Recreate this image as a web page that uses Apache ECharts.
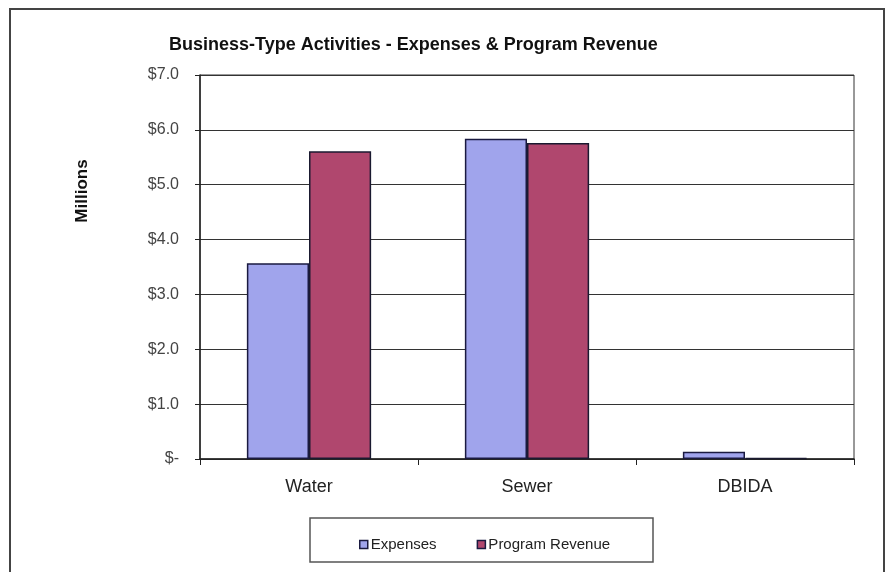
<!DOCTYPE html>
<html>
<head>
<meta charset="utf-8">
<script src="https://cdn.jsdelivr.net/npm/echarts@6/dist/echarts.min.js"></script>
<style>html,body{margin:0;padding:0;background:#fff}#c{width:890px;height:572px}</style>
</head>
<body>
<div id="c"></div>
<script>
const categories = ['Water', 'Sewer', 'DBIDA'];
const expenses = [3.57, 5.84, 0.13];
const programRevenue = [5.61, 5.76, 0.02];
const yTicks = [0, 1, 2, 3, 4, 5, 6, 7];
const seriesNames = ['Expenses', 'Program Revenue'];

const chart = echarts.init(document.getElementById('c'), null, {renderer: 'canvas'});
const fontFam = '"Liberation Sans", Arial, sans-serif';
chart.setOption({
  animation: false,
  backgroundColor: '#ffffff',
  title: {
    text: 'Business-Type Activities - Expenses & Program Revenue',
    left: 164, top: 31,
    textStyle: {fontFamily: fontFam, fontSize: 18, fontWeight: 'bold', color: '#111'}
  },
  graphic: [
    {type: 'rect', shape: {x: 10, y: 9, width: 874, height: 575}, style: {fill: 'none', stroke: '#444', lineWidth: 2}, silent: true},
    {type: 'rect', shape: {x: 310, y: 518, width: 343, height: 44}, style: {fill: 'none', stroke: '#555', lineWidth: 1.5}, silent: true},
    {type: 'text', x: 82, y: 191, rotation: Math.PI / 2,
      style: {text: 'Millions', fontFamily: fontFam, fontSize: 17, fontWeight: 'bold', fill: '#111', align: 'center', verticalAlign: 'middle'}, silent: true}
  ],
  legend: {
    data: seriesNames,
    left: 354, top: 532,
    itemWidth: 8, itemHeight: 8, itemGap: 40,
    icon: 'rect',
    textStyle: {fontFamily: fontFam, fontSize: 15, color: '#222', padding: [0, 0, 0, -2]},
    itemStyle: {borderWidth: 1.5, borderColor: '#1a1a40'}
  },
  grid: {left: 200, right: 36, top: 75, bottom: 113, show: true, borderColor: '#333', borderWidth: 1},
  xAxis: {
    type: 'category',
    data: categories,
    axisLine: {lineStyle: {color: '#222', width: 1.5}},
    axisTick: {show: true, alignWithLabel: false, length: 6, lineStyle: {color: '#222'}},
    axisLabel: {fontFamily: fontFam, fontSize: 18, color: '#222', margin: 19}
  },
  yAxis: {
    type: 'value',
    min: yTicks[0], max: yTicks[yTicks.length - 1], interval: 1,
    axisLine: {show: true, lineStyle: {color: '#222', width: 1.5}},
    axisTick: {show: true, length: 5, inside: false, lineStyle: {color: '#222'}},
    splitLine: {lineStyle: {color: '#333', width: 1}},
    axisLabel: {
      fontFamily: fontFam, fontSize: 16, color: '#444', margin: 21,
      formatter: v => v === 0 ? '$-' : '$' + v.toFixed(1)
    }
  },
  series: [
    {
      name: seriesNames[0], type: 'bar', data: expenses,
      barGap: '0%', barCategoryGap: '43%',
      itemStyle: {color: '#a0a4ec', borderColor: '#1a1a40', borderWidth: 1.5}
    },
    {
      name: seriesNames[1], type: 'bar', data: programRevenue,
      barGap: '0%', barCategoryGap: '43%',
      itemStyle: {color: '#b0476e', borderColor: '#1a1a30', borderWidth: 1.5}
    }
  ]
});
</script>
</body>
</html>
